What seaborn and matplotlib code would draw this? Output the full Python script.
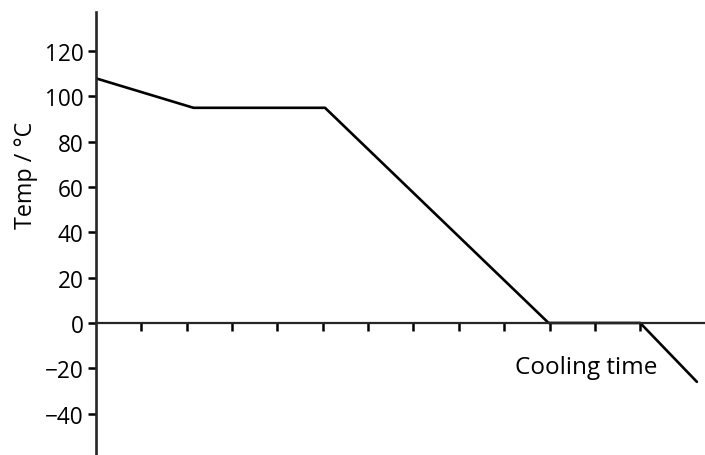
import matplotlib
matplotlib.use("Agg")
import matplotlib.pyplot as plt
import seaborn as sns
import pandas as pd

# Data
time_points = [0.0, 2.15, 5.05, 9.98, 12.0, 13.25]
temperature = [108, 95, 95, 0, 0, -26]
y_ticks = [-40, -20, 0, 20, 40, 60, 80, 100, 120]
x_ticks = list(range(1, 13))
y_label = "Temp / °C"
x_text = "Cooling time"

sns.set_style("ticks")
plt.rcParams['font.family'] = ['Open Sans', 'DejaVu Sans']
plt.rcParams['axes.unicode_minus'] = True

W, H = 705, 456
fig = plt.figure(figsize=(W / 100, H / 100), dpi=100)
left_px, right_px, top_px, bottom_px = 96, 705, 13, 456
ax = fig.add_axes([left_px / W, 1 - bottom_px / H, (right_px - left_px) / W, (bottom_px - top_px) / H])

df = pd.DataFrame({"t": time_points, "T": temperature})
sns.lineplot(data=df, x="t", y="T", ax=ax, color="black", linewidth=1.9, sort=False)

ax.set_xlim(0, (705 - 96) / 45.35)
ax.set_ylim(-58.3, 137.3)

for s in ["top", "right"]:
    ax.spines[s].set_visible(False)
ax.spines["bottom"].set_position(("data", 0))
ax.spines["left"].set_linewidth(1.9)
ax.spines["bottom"].set_linewidth(1.6)

ax.set_xticks(x_ticks)
ax.set_xticklabels([])
ax.set_yticks(y_ticks)
ax.set_yticklabels([f"{v}".replace("-", "\u2212") for v in y_ticks])
ax.tick_params(axis="x", direction="out", length=6, width=1.8, color="black")
ax.tick_params(axis="y", direction="out", length=6, width=1.8, color="black",
               labelsize=16.3, pad=3, labelcolor="black")

ax.set_xlabel("")
ax.set_ylabel(y_label, fontsize=16.8, color="black")
ax.yaxis.set_label_coords((38 - 96) / (705 - 96), (456 - 175) / (456 - 13))

ax.text(9.24, -22.2, x_text, fontsize=17.5, ha="left", va="baseline", color="black")

fig.savefig("out.png", dpi=100, facecolor="white")
